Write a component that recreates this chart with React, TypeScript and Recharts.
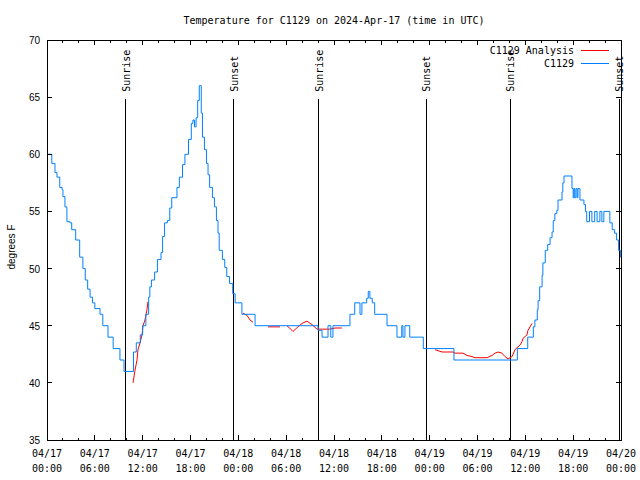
import { LineChart, Line, XAxis, YAxis, ReferenceLine, ReferenceArea, Legend } from "recharts"

const MONO = '"DejaVu Sans Mono", "Liberation Mono", monospace'
const SANS = '"Liberation Sans", Arial, sans-serif'

// hours since 2024-04-17 00:00 UTC
const stationHours = [
  0, 0.6, 1.0, 1.25, 1.6, 1.9, 2.0, 2.25, 2.5, 2.9, 3.1, 3.6, 4.1, 4.5, 4.8, 5.1, 5.4, 5.7, 6.0, 6.65,
  7.0, 7.65, 8.3, 9.15, 9.66, 10.85, 11.2, 11.7, 12.0, 12.4, 12.75, 12.9, 13.1, 13.5, 13.85, 14.3, 14.5,
  14.75, 15.1, 15.4, 15.65, 16.3, 16.6, 17.0, 17.3, 17.75, 18.1, 18.3, 18.5, 18.7, 18.9, 19.1, 19.35,
  19.5, 19.75, 20.0, 20.2, 20.4, 20.75, 21.0, 21.25, 21.45, 21.6, 22.0, 22.3, 22.55, 22.9, 23.3, 23.6,
  24.45, 26.1, 34.0, 34.5, 35.25, 35.6, 35.87, 38.0, 38.6, 39.26, 39.5, 40.1, 40.3, 40.5, 40.8, 41.1,
  42.65, 43.9, 44.5, 44.65, 44.9, 45.5, 47.2, 51.05, 59.0, 60.3, 61.0, 61.2, 61.5, 61.6, 61.8, 62.1,
  62.2, 62.5, 62.8, 63.1, 63.35, 63.5, 63.7, 63.95, 64.1, 64.6, 64.7, 64.85, 65.85, 66.0, 66.1, 66.2,
  66.35, 66.5, 66.6, 66.85, 67.35, 67.55, 67.7, 68.05, 68.35, 68.7, 69.0, 69.35, 69.6, 69.85, 70.6,
  70.9, 71.2, 71.45, 71.7, 71.95, 72,
]
const stationTemps = [
  60, 59.2, 58.4, 58, 57.1, 56.9, 56.3, 55.4, 54.1, 54, 53.4, 52.5, 51, 50, 49, 48.2, 47.5, 47, 46.5, 46,
  45, 44, 43, 42, 41, 42.7, 43.5, 44.2, 45, 46, 47.5, 48.4, 49, 49.7, 50.8, 51.4, 52.8,
  54, 54.2, 55.3, 56.2, 57.1, 58, 59.1, 60, 61.3, 62.7, 63, 62.4, 63.2, 64.7, 66, 63.6,
  61.5, 60.4, 59.2, 58.2, 57.1, 56.2, 55.4, 54.2, 53.1, 51.6, 50.8, 50.1, 49.3, 48.7, 47.8, 47,
  46, 45, 44.6, 44, 45, 44, 45, 46, 47, 46, 47, 47.4, 48, 47.4, 47, 46,
  45, 44, 45, 44, 45, 44, 43, 42, 43, 44, 44.9, 45.5, 46.4, 47.2, 48.4, 49.4,
  50.5, 51.6, 52.1, 52.7, 53.2, 54.2, 54.8, 55.1, 56, 56.7, 57.5, 58.1, 57, 56.2, 57, 56.2,
  57, 56.2, 57, 56, 55.6, 55, 54.1, 55, 54.1, 55, 54.1, 55, 54.1, 55, 54,
  53.4, 53.1, 52.5, 51.6, 51, 51,
]

// analysis series, null = gap
const analysisHours = [
  10.79, 11.04, 11.29, 11.41, 11.67, 11.92, 12.04, 12.29, 12.54, 12.67, 12.7,
  24.59, 25.09, 25.47, 25.84, 25.9,
  27.72, 29.23, 29.3,
  30.1, 30.73, 30.86, 31.48, 31.99, 32.61, 33.24, 33.87, 35.5, 36.13, 37.0, 37.1,
  48.67, 49.55, 50.93, 51.18, 52.18, 52.68, 53.31, 53.69, 55.2, 55.82, 56.2, 56.57, 57.07, 57.45,
  57.83, 58.33, 58.7, 59.33, 59.58, 59.71, 60.21, 60.33, 60.59, 60.84,
]
const analysisTemps = [
  40, 41.1, 42, 42.9, 43.5, 44.2, 45, 45.5, 46.4, 47.1, null,
  46.1, 45.9, 45.5, 45.3, null,
  44.9, 44.9, null,
  45, 44.6, 44.5, 44.9, 45.2, 45.4, 45.1, 44.7, 44.7, 44.8, 44.8, null,
  42.9, 42.7, 42.7, 42.6, 42.6, 42.4, 42.3, 42.2, 42.2, 42.4, 42.6, 42.7, 42.6, 42.3,
  42.1, 42.3, 42.9, 43.3, 43.6, 43.9, 44.2, 44.6, 44.9, 45.2,
]

const sunHours = [9.9, 23.45, 34.1, 47.55, 58.1, 71.75]
const sunLabels = ["Sunrise", "Sunset", "Sunrise", "Sunset", "Sunrise", "Sunset"]
const SUN_LINE_TOP = 64.85

const legendOrder = ["C1129 Analysis", "C1129"]

const xTicks = Array.from({ length: 37 }, (_, i) => i * 2)
const yTicks = [35, 40, 45, 50, 55, 60, 65, 70]

const station = stationHours.map((h, i) => ({ h, t: stationTemps[i] }))
const analysis = analysisHours.map((h, i) => ({ h, t: analysisTemps[i] }))

const PLOT = { left: 47, right: 621, top: 40, bottom: 440 }

const pad = (n: number) => String(n).padStart(2, "0")

function XTick({ x, payload }: any) {
  const h = payload.value
  const major = h % 6 === 0
  const len = major ? 5 : 2.5
  const day = 17 + Math.floor(h / 24)
  const hr = h % 24
  return (
    <g>
      <line x1={x} x2={x} y1={PLOT.bottom} y2={PLOT.bottom - len} stroke="#000" shapeRendering="crispEdges" />
      <line x1={x} x2={x} y1={PLOT.top} y2={PLOT.top + len} stroke="#000" shapeRendering="crispEdges" />
      {major && (
        <text x={x} y={PLOT.bottom + 17} textAnchor="middle" fontFamily={MONO} fontSize={10} fill="#000">
          {`04/${pad(day)}`}
        </text>
      )}
      {major && (
        <text x={x} y={PLOT.bottom + 32} textAnchor="middle" fontFamily={MONO} fontSize={10} fill="#000">
          {`${pad(hr)}:00`}
        </text>
      )}
    </g>
  )
}

function YTick({ y, payload }: any) {
  return (
    <g>
      <line x1={PLOT.left} x2={PLOT.left + 5} y1={y} y2={y} stroke="#000" shapeRendering="crispEdges" />
      <line x1={PLOT.right - 5} x2={PLOT.right} y1={y} y2={y} stroke="#000" shapeRendering="crispEdges" />
      <text x={PLOT.left - 7} y={y + 4} textAnchor="end" fontFamily={SANS} fontSize={10} fill="#000">
        {payload.value}
      </text>
    </g>
  )
}

function SunMark({ x1, y1, y2, text }: any) {
  const top = Math.min(y1, y2)
  const bottom = Math.max(y1, y2)
  const tx = x1 + 4
  const ty = top - 7
  return (
    <g>
      <line x1={x1} x2={x1} y1={top} y2={bottom} stroke="#000" shapeRendering="crispEdges" />
      <text x={tx} y={ty} transform={`rotate(-90 ${tx} ${ty})`} fontFamily={MONO} fontSize={10} fill="#000">
        {text}
      </text>
    </g>
  )
}

function LegendBox({ payload }: any) {
  const items = [...(payload || [])].sort(
    (a: any, b: any) => legendOrder.indexOf(a.value) - legendOrder.indexOf(b.value)
  )
  return (
    <svg width={640} height={80}>
      {items.map((p: any, i: number) => (
        <g key={p.value}>
          <text x={574} y={54 + 13 * i} textAnchor="end" fontFamily={MONO} fontSize={10} fill="#000">
            {p.value}
          </text>
          <line x1={581} x2={609} y1={50 + 13 * i} y2={50 + 13 * i} stroke={p.color} shapeRendering="crispEdges" />
        </g>
      ))}
    </svg>
  )
}

export default function App() {
  return (
    <div style={{ position: "absolute", left: 0, top: 0, width: 640, height: 480, background: "#fff" }}>
      <LineChart width={640} height={480} margin={{ top: 40, right: 19, bottom: 0, left: 0 }}>
        <XAxis
          dataKey="h"
          type="number"
          domain={[0, 72]}
          ticks={xTicks}
          interval={0}
          tick={<XTick />}
          tickLine={false}
          axisLine={false}
          tickSize={0}
          tickMargin={0}
          height={40}
        />
        <YAxis
          type="number"
          domain={[35, 70]}
          ticks={yTicks}
          interval={0}
          tick={<YTick />}
          tickLine={false}
          axisLine={false}
          tickSize={0}
          width={47}
        />
        <ReferenceArea x1={0} x2={72} y1={35} y2={70} fill="none" stroke="#000" shapeRendering="crispEdges" />
        {sunHours.map((h, i) => (
          <ReferenceLine
            key={h}
            segment={[{ x: h, y: 35 }, { x: h, y: SUN_LINE_TOP }]}
            shape={(p: any) => <SunMark {...p} text={sunLabels[i]} />}
          />
        ))}
        <Legend
          layout="horizontal"
          verticalAlign="middle"
          align="center"
          content={<LegendBox />}
          wrapperStyle={{ left: 0, top: 0, width: 640, height: 80 }}
        />
        <Line
          name="C1129 Analysis"
          data={analysis}
          dataKey="t"
          type="linear"
          stroke="#ff0000"
          strokeWidth={1}
          dot={false}
          connectNulls={false}
          isAnimationActive={false}
        />
        <Line
          name="C1129"
          data={station}
          dataKey="t"
          type="stepAfter"
          stroke="#0080ff"
          strokeWidth={1}
          dot={false}
          isAnimationActive={false}
        />
      </LineChart>
      <svg width={640} height={480} style={{ position: "absolute", left: 0, top: 0, pointerEvents: "none" }}>
        <text x={334} y={24} textAnchor="middle" fontFamily={MONO} fontSize={10} fill="#000">
          Temperature for C1129 on 2024-Apr-17 (time in UTC)
        </text>
        <text x={15} y={247} transform="rotate(-90 15 247)" textAnchor="middle" fontFamily={SANS} fontSize={10} fill="#000">
          degrees F
        </text>
      </svg>
    </div>
  )
}
